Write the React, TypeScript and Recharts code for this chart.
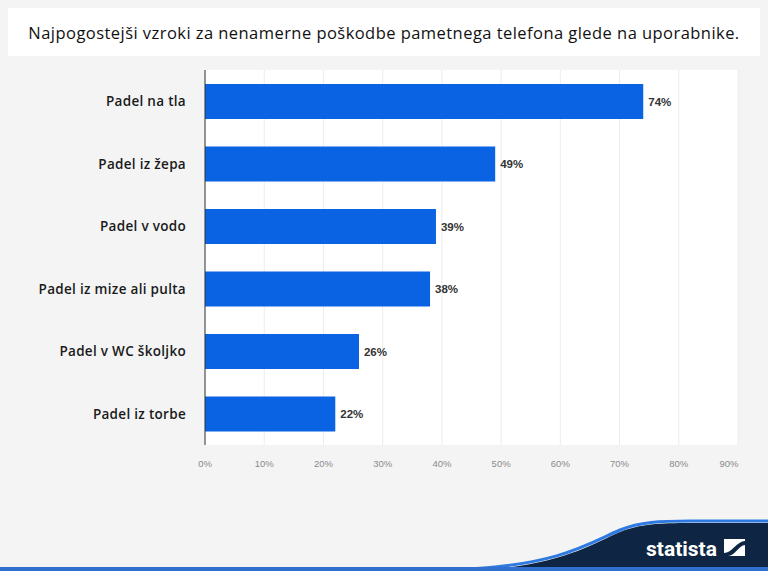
import { BarChart, Bar, XAxis, YAxis, CartesianGrid, LabelList } from "recharts"

const causes = [
  "Padel na tla",
  "Padel iz žepa",
  "Padel v vodo",
  "Padel iz mize ali pulta",
  "Padel v WC školjko",
  "Padel iz torbe",
]
const shares = [74, 49, 39, 38, 26, 22]
const xTicks = [0, 10, 20, 30, 40, 50, 60, 70, 80, 90]

const data = causes.map((name, i) => ({ name, value: shares[i] }))

// last tick label sits a bit inside the plot edge, like the original
function PercentTick(props: any) {
  const { x, y, payload } = props
  const shift = payload.value === 90 ? -9 : 0
  return (
    <text
      x={x + shift}
      y={y}
      dy={8}
      textAnchor="middle"
      fill="#8a8a8a"
      fontSize={9.5}
      fontFamily="'Liberation Sans', Arial, sans-serif"
    >
      {`${payload.value}%`}
    </text>
  )
}

export default function App() {
  return (
    <div
      style={{
        position: "absolute",
        top: 0,
        left: 0,
        width: 768,
        height: 571,
        background: "#f4f4f5",
        overflow: "hidden",
        fontFamily: "'Open Sans', sans-serif",
      }}
    >
      <div
        style={{
          position: "absolute",
          left: 8,
          top: 8,
          width: 752,
          height: 48,
          background: "#fff",
          display: "flex",
          alignItems: "center",
          justifyContent: "center",
          fontSize: 16.5,
          fontWeight: 500,
          color: "#111",
          letterSpacing: 0.45,
        }}
      >
        Najpogostejši vzroki za nenamerne poškodbe pametnega telefona glede na uporabnike.
      </div>

      <div style={{ position: "absolute", left: 0, top: 0 }}>
        <BarChart
          width={768}
          height={571}
          data={data}
          layout="vertical"
          margin={{ top: 70, right: 30, bottom: 96, left: 0 }}
          barSize={35}
        >
          <CartesianGrid horizontal={false} stroke="#ececec" fill="#fff" />
          <XAxis
            type="number"
            domain={[0, 90]}
            ticks={xTicks}
            axisLine={false}
            tickLine={false}
            tick={<PercentTick />}
            tickMargin={8}
            height={30}
          />
          <YAxis
            type="category"
            dataKey="name"
            width={205}
            axisLine={{ stroke: "#333" }}
            tickLine={false}
            tickMargin={13}
            tick={{
              fill: "#1a1a1a",
              fontSize: 13.5,
              fontWeight: 600,
              letterSpacing: 0.3,
              fontFamily: "'Open Sans', sans-serif",
            }}
          />
          <Bar dataKey="value" fill="#0a63e3" isAnimationActive={false}>
            <LabelList
              dataKey="value"
              position="right"
              offset={5}
              formatter={(v: number) => `${v}%`}
              style={{ fill: "#333", fontSize: 11.5, fontWeight: 700, fontFamily: "'Liberation Sans', Arial, sans-serif" }}
            />
          </Bar>
        </BarChart>
      </div>

      <svg
        width={768}
        height={571}
        style={{ position: "absolute", left: 0, top: 0, pointerEvents: "none" }}
      >
        <path
          d="M 470 571 C 560 566, 590 545, 620 532 C 640 524, 660 523, 690 523 L 768 523 L 768 571 Z"
          fill="#0e2643"
        />
        <path
          d="M 470 569 C 560 564, 590 543, 620 530 C 640 522, 660 521, 690 521 L 768 521"
          fill="none"
          stroke="#2f7ae0"
          strokeWidth={3}
        />
        <rect x={0} y={567} width={768} height={4} fill="#2f6fd0" />
        <text
          x={646}
          y={556}
          fill="#fff"
          fontSize={21}
          fontWeight={700}
          fontFamily="'Roboto', sans-serif"
        >
          statista
        </text>
        <rect x={724} y={539} width={21} height={17} fill="#fff" />
        <path d="M 724 553 C 732 553, 737 541, 745 541 L 745 545 C 739 545, 735 556, 728 556 L 724 556 Z" fill="#0e2643" />
      </svg>
    </div>
  )
}
